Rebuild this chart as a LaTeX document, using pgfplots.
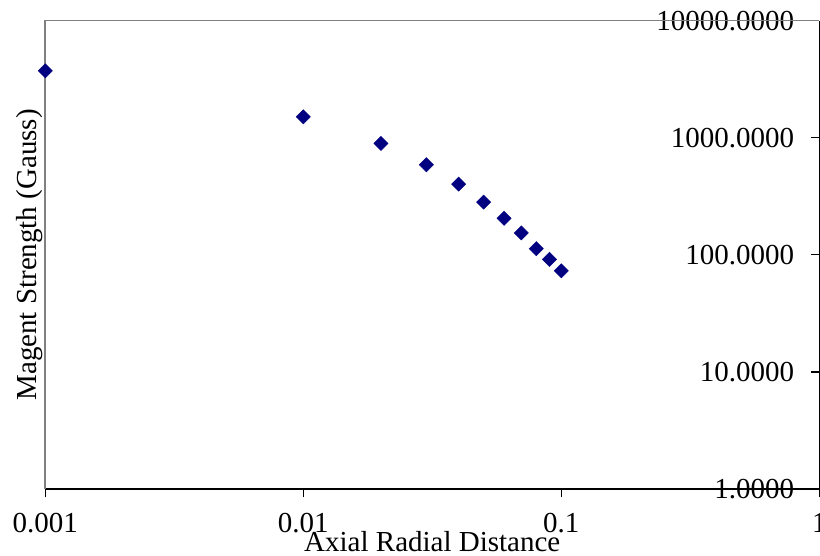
\documentclass[border=0pt]{standalone}
\usepackage{fontspec}
\setmainfont{Liberation Serif}
\usepackage{pgfplots}
\pgfplotsset{compat=1.18}
\definecolor{navyblue}{RGB}{0,0,128}
\definecolor{bordergray}{RGB}{128,128,128}
\begin{document}
\begin{tikzpicture}[font=\fontsize{29bp}{34bp}\selectfont]
\begin{axis}[
  name=ax,
  scale only axis,
  width=774bp, height=468.3bp,
  xmode=log, ymode=log,
  xmin=0.001, xmax=1, ymin=1, ymax=10000,
  axis x line*=bottom, axis y line*=right,
  axis line style={black, line width=1.3bp},
  xtick={0.001,0.01,0.1,1}, xticklabels={0.001,0.01,0.1,1},
  ytick={1,10,100,1000,10000},
  yticklabels={1.0000,10.0000,100.0000,1000.0000,10000.0000},
  xtick align=outside, ytick align=inside,
  major tick length=8.5bp,
  tick style={black, line width=1.2bp},
  minor tick length=0pt,
  xticklabel style={anchor=base, inner sep=0pt, yshift=-35.5bp},
  yticklabel style={anchor=east, inner sep=0pt, xshift=-25bp},
  clip=false,
  xlabel={Axial Radial Distance},
  ylabel={Magent Strength (Gauss)},
  every axis x label/.style={at={(axis description cs:0.5,0)}, anchor=base, yshift=-62bp},
  every axis y label/.style={at={(axis description cs:-0.012,0.5)}, anchor=base, rotate=90},
]
\draw[bordergray, line width=1.6bp] (rel axis cs:0,0) -- (rel axis cs:0,1) -- (rel axis cs:1,1);
\addplot[only marks, mark=square*, mark size=5bp, color=navyblue, mark options={rotate=45, line width=0.5bp}]
  coordinates {
  (0.001,3730) (0.01,1510) (0.02,895) (0.03,588) (0.04,402) (0.05,282)
  (0.06,205) (0.07,154) (0.08,113) (0.09,91.5) (0.1,73.1)
  };
\end{axis}
\pgfresetboundingbox
\path[use as bounding box] ([shift={(-45.3bp,-67bp)}]ax.south west) rectangle ++(820bp,556bp);
\end{tikzpicture}
\end{document}
